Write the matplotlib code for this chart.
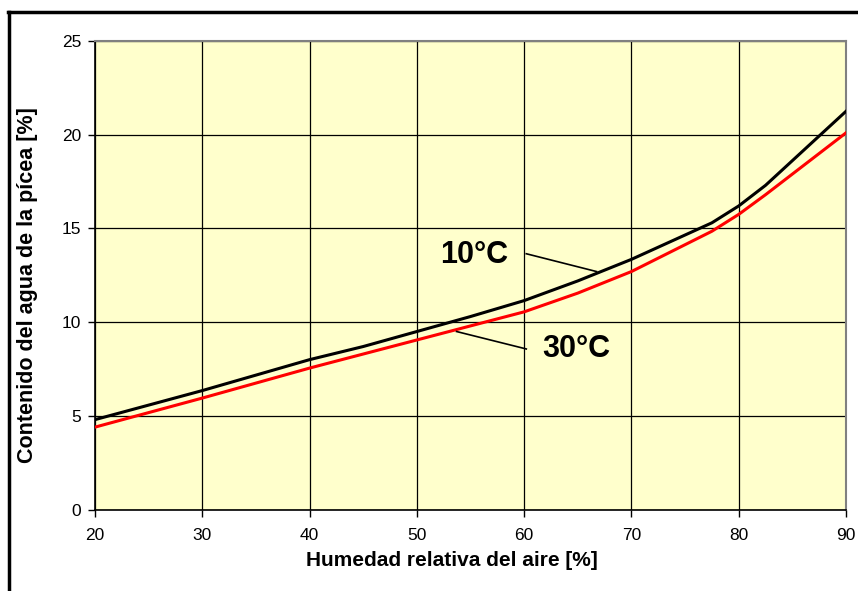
import matplotlib
matplotlib.use("Agg")
import matplotlib.pyplot as plt
from matplotlib.lines import Line2D

plt.rcParams['font.family'] = ['Liberation Sans', 'DejaVu Sans']

# Humedad relativa del aire [%]
humedad = [20, 30, 40, 45, 50, 55, 60, 65, 70, 77.5, 80, 82.5, 90]
# Contenido del agua [%] a 10 °C y 30 °C
agua_10 = [4.8, 6.35, 8.0, 8.7, 9.5, 10.3, 11.15, 12.2, 13.35, 15.3, 16.2, 17.3, 21.25]
agua_30 = [4.4, 5.95, 7.55, 8.3, 9.05, 9.8, 10.55, 11.55, 12.7, 14.85, 15.75, 16.8, 20.1]

xticks = [20, 30, 40, 50, 60, 70, 80, 90]
yticks = [0, 5, 10, 15, 20, 25]

fig = plt.figure(figsize=(8.58, 5.91), dpi=100)
ax = fig.add_axes([95 / 858, 1 - 509.6 / 591, 751 / 858, 468.6 / 591])
ax.set_facecolor('#FFFFCC')

ax.plot(humedad, agua_10, color='black', lw=2.2, zorder=3)
ax.plot(humedad, agua_30, color='#FF0000', lw=2.2, zorder=3)

ax.set_xlim(20, 90)
ax.set_ylim(0, 25)
ax.set_xticks(xticks)
ax.set_yticks(yticks)
ax.grid(True, color='black', lw=0.9)
ax.set_axisbelow(True)

ax.tick_params(axis='x', direction='out', length=5, width=1, pad=8, labelsize=12.5)
ax.tick_params(axis='y', direction='out', length=5, width=1, pad=5, labelsize=12.5)

for s in ['top', 'right']:
    ax.spines[s].set_color('#808080')
    ax.spines[s].set_linewidth(1.5)
for s in ['left', 'bottom']:
    ax.spines[s].set_color('black')
    ax.spines[s].set_linewidth(1.2)

ax.set_xlabel('Humedad relativa del aire [%]', fontsize=15, fontweight='bold')
ax.set_ylabel('Contenido del agua de la pícea [%]', fontsize=15.5, fontweight='bold')
ax.xaxis.set_label_coords(0.475, -0.088)
ax.yaxis.set_label_coords(-0.076, 0.48)

# etiquetas de las curvas
ax.text(55.3, 13.6, '10°C', fontsize=22, fontweight='bold', ha='center', va='center')
ax.plot([60.2, 66.75], [13.65, 12.7], color='black', lw=1.2, zorder=4)
ax.text(64.9, 8.58, '30°C', fontsize=22, fontweight='bold', ha='center', va='center')
ax.plot([53.7, 60.2], [9.5, 8.57], color='black', lw=1.2, zorder=4)

# marco exterior (solo borde izquierdo y superior visibles)
fig.add_artist(Line2D([8.5 / 858, 8.5 / 858], [0, 1 - 12 / 591], color='black', lw=2.5,
                      transform=fig.transFigure))
fig.add_artist(Line2D([7.5 / 858, 1], [1 - 12 / 591, 1 - 12 / 591], color='black', lw=2.5,
                      transform=fig.transFigure))

fig.savefig('out.png', dpi=100)
